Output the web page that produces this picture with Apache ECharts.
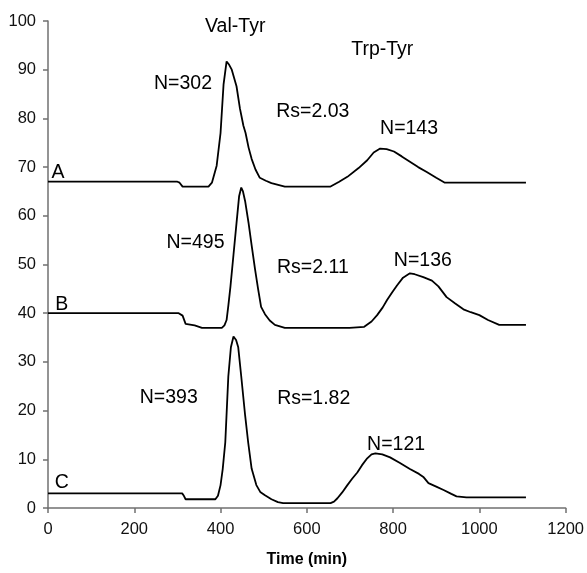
<!DOCTYPE html>
<html><head><meta charset="utf-8">
<script src="https://cdn.jsdelivr.net/npm/echarts@6/dist/echarts.min.js"></script>
<style>html,body{margin:0;padding:0;background:#fff}#c{width:587px;height:573px}</style>
</head><body><div id="c"></div>
<script>
const xTicks = [0, 200, 400, 600, 800, 1000, 1200];
const yTicks = [0, 10, 20, 30, 40, 50, 60, 70, 80, 90, 100];
const curveA = [[0,67],[300,67],[305,66.8],[312,66],[372,66],[380,66.8],[391,70.3],[400,77],[407,87],[414,91.7],[420,91],[426,90],[437,86.6],[445,82],[453,78.5],[458,77],[465,74],[472,71.7],[481,69.5],[491,67.8],[505,67.2],[518,66.7],[549,66],[655,66],[675,67],[694,68],[720,69.8],[740,71.4],[755,73],[770,73.8],[785,73.7],[802,73.2],[820,72.2],[839,71.1],[858,70],[878,69],[900,67.8],[920,66.8],[1108,66.8]];
const curveB = [[0,40],[303,40],[307,40.3],[312,39.5],[319,37.8],[340,37.5],[357,37],[403,37],[409,37.5],[414,38.6],[418,41.5],[423,45.5],[430,52],[437,58.5],[443,64],[448,65.8],[452,65],[457,63],[465,58.5],[472,54],[480,49],[487,45],[494,41.3],[503,39.8],[514,38.5],[526,37.6],[549,37],[699,37],[733,37.2],[750,38.3],[763,39.6],[776,41.2],[786,42.7],[798,44.3],[809,45.7],[823,47.3],[839,48.2],[850,48],[870,47.4],[890,46.7],[905,45.5],[924,43.3],[944,42],[963,40.8],[980,40.2],[1000,39.6],[1020,38.6],[1046,37.6],[1108,37.6]];
const curveC = [[0,3],[311,3],[315,2.5],[319,1.8],[388,1.8],[394,2.5],[400,4.7],[405,8],[411,13.5],[418,27],[424,33],[430,35.2],[436,34.5],[441,33],[448,27],[457,19],[464,13.5],[472,8.1],[483,4.7],[492,3.3],[503,2.6],[518,1.8],[533,1.2],[545,1],[655,1],[663,1.3],[671,2],[682,3.2],[694,4.7],[705,6],[717,7.3],[728,8.8],[740,10.2],[750,11],[759,11.2],[775,11],[793,10.4],[815,9.3],[839,8],[860,7],[871,6.3],[882,5.1],[900,4.4],[917,3.7],[935,2.9],[947,2.4],[970,2.2],[1108,2.2]];
const annotations = [
  [434, 98.8, 'Val-Tyr'], [775, 94.1, 'Trp-Tyr'],
  [313, 87.2, 'N=302'], [614, 81.3, 'Rs=2.03'], [837, 77.8, 'N=143'], [23, 68.9, 'A'],
  [342, 54.5, 'N=495'], [614, 49.4, 'Rs=2.11'], [869, 50.8, 'N=136'], [32, 41.7, 'B'],
  [280, 22.6, 'N=393'], [616, 22.4, 'Rs=1.82'], [807, 13.0, 'N=121'], [32, 5.3, 'C']
];
const FONT = '"Liberation Sans", Arial, sans-serif';
const lineStyle = {color: '#000', width: 1.8};
const mk = (d) => ({type: 'line', data: d, showSymbol: false, symbol: 'none', lineStyle: lineStyle, silent: true, animation: false, z: 3});
const chart = echarts.init(document.getElementById('c'));
chart.setOption({
  animation: false,
  grid: {left: 48, right: 17, top: 21, bottom: 60},
  xAxis: {
    type: 'value', min: xTicks[0], max: xTicks[xTicks.length - 1], interval: 200,
    name: 'Time (min)', nameLocation: 'middle', nameGap: 44,
    nameTextStyle: {fontFamily: FONT, fontSize: 16, fontWeight: 'bold', color: '#000'},
    axisLine: {lineStyle: {color: '#707070', width: 1.5}},
    axisTick: {show: true, inside: false, length: 5, lineStyle: {color: '#707070', width: 1.5}},
    axisLabel: {fontFamily: FONT, fontSize: 16.5, color: '#111', margin: 13, formatter: v => String(v)},
    splitLine: {show: false}
  },
  yAxis: {
    type: 'value', min: yTicks[0], max: yTicks[yTicks.length - 1], interval: 10,
    axisLine: {show: true, lineStyle: {color: '#707070', width: 1.5}},
    axisTick: {show: true, inside: false, length: 5, lineStyle: {color: '#707070', width: 1.5}},
    axisLabel: {fontFamily: FONT, fontSize: 16.5, color: '#111', margin: 12, formatter: v => String(v)},
    splitLine: {show: false}
  },
  series: [
    mk(curveA), mk(curveB), mk(curveC),
    {
      type: 'scatter', symbolSize: 0, silent: true, z: 5,
      itemStyle: {opacity: 1, color: '#000'},
      data: annotations.map(a => ({value: [a[0], a[1]], name: a[2]})),
      label: {show: true, position: 'inside', formatter: p => p.name,
        fontFamily: FONT, fontSize: 19.5, color: '#000', opacity: 1, textBorderWidth: 0, textBorderColor: 'transparent'}
    }
  ]
});
</script></body></html>
